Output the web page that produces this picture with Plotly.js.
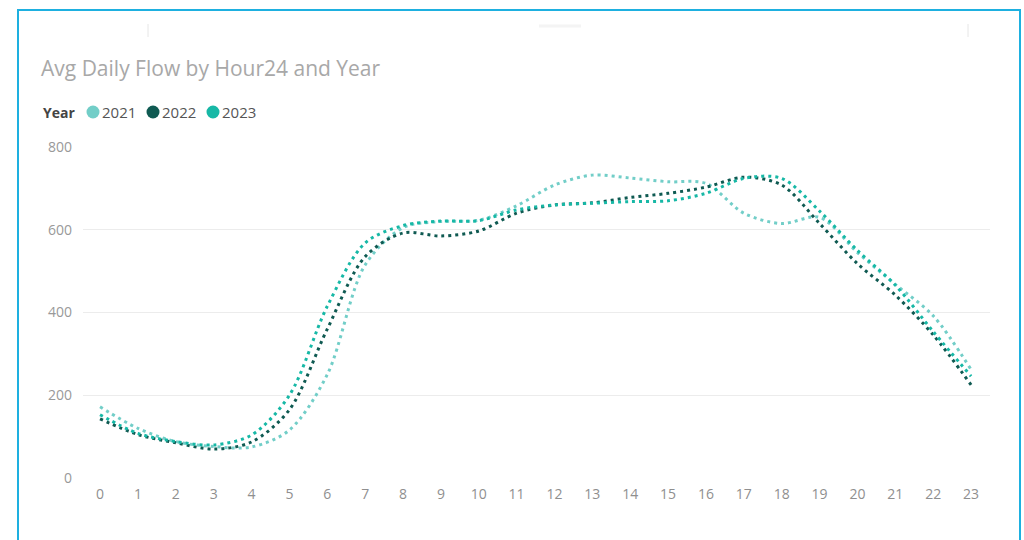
<!DOCTYPE html>
<html>
<head>
<meta charset="utf-8">
<script src="https://cdn.plot.ly/plotly-3.0.1.min.js"></script>
<style>
  html, body { margin: 0; padding: 0; background: #ffffff; }
  #chart { width: 1024px; height: 540px; }
</style>
</head>
<body>
<div id="chart"></div>
<script>
// ---- Data ----
const hours = [0, 1, 2, 3, 4, 5, 6, 7, 8, 9, 10, 11, 12, 13, 14, 15, 16, 17, 18, 19, 20, 21, 22, 23];
const years = ["2021", "2022", "2023"];
const flow2021 = [172, 120, 88, 76, 75, 116, 250, 515, 605, 620, 623, 658, 708, 732, 725, 716, 712, 640, 615, 630, 545, 468, 392, 262];
const flow2022 = [143, 105, 85, 70, 87, 165, 360, 535, 592, 585, 597, 640, 660, 665, 678, 688, 703, 727, 708, 615, 518, 442, 346, 225];
const flow2023 = [153, 108, 88, 80, 104, 200, 415, 568, 610, 621, 622, 648, 660, 664, 668, 670, 688, 724, 724, 645, 550, 466, 354, 246];
const yTicks = [0, 200, 400, 600, 800];
const colors = ["#72cec8", "#0f5a52", "#17b8a6"];
const titleText = "Avg Daily Flow by Hour24 and Year";
const legendTitle = "Year";

const seriesValues = [flow2021, flow2022, flow2023];

// ---- Geometry helpers (pixel -> paper) ----
const L = 83, R = 990, T = 147, B = 478;
const W = R - L, H = B - T;
const px = p => (p - L) / W;
const py = p => (B - p) / H;

const traces = years.map((yr, i) => ({
  type: "scatter",
  mode: "lines",
  name: yr,
  x: hours,
  y: seriesValues[i],
  line: { color: colors[i], width: 3, dash: "3px,4px", shape: "spline", smoothing: 0.9 },
  showlegend: false,
  hoverinfo: "x+y+name"
}));

// manual legend like the original (circle markers)
const shapes = [];
const annotations = [];
annotations.push({
  xref: "paper", yref: "paper", x: px(41), y: py(112),
  xanchor: "left", yanchor: "middle", showarrow: false,
  text: "<b>" + legendTitle + "</b>",
  font: { family: "Open Sans, sans-serif", size: 14, color: "#444444" }
});
years.forEach((yr, i) => {
  const cx = 93 + i * 60;
  shapes.push({
    type: "circle", xref: "paper", yref: "paper",
    xsizemode: "pixel", ysizemode: "pixel",
    xanchor: px(cx), yanchor: py(112),
    x0: -6.5, x1: 6.5, y0: -6.5, y1: 6.5,
    fillcolor: colors[i], line: { width: 0 }
  });
  annotations.push({
    xref: "paper", yref: "paper", x: px(cx + 7), y: py(112),
    xanchor: "left", yanchor: "middle", showarrow: false,
    text: yr,
    font: { family: "Open Sans, sans-serif", size: 15, color: "#555555" }
  });
});

// visual frame and faint header marks
shapes.push({
  type: "rect", xref: "paper", yref: "paper",
  x0: px(18), x1: px(1020), y0: py(600), y1: py(10),
  line: { color: "#1eb0e0", width: 2 }, fillcolor: "rgba(0,0,0,0)", layer: "above"
});
shapes.push({ type: "line", xref: "paper", yref: "paper", x0: px(148), x1: px(148), y0: py(24), y1: py(37), line: { color: "#e6e6e6", width: 1 } });
shapes.push({ type: "line", xref: "paper", yref: "paper", x0: px(968), x1: px(968), y0: py(24), y1: py(37), line: { color: "#e6e6e6", width: 1 } });
shapes.push({ type: "line", xref: "paper", yref: "paper", x0: px(539), x1: px(581), y0: py(26), y1: py(26), line: { color: "#f4f4f4", width: 3 } });

const layout = {
  width: 1024, height: 540,
  paper_bgcolor: "#ffffff", plot_bgcolor: "#ffffff",
  margin: { l: L, r: 1024 - R, t: T, b: 540 - B, pad: 0 },
  font: { family: "Open Sans, sans-serif", color: "#999999" },
  title: {
    text: titleText,
    xref: "container", yref: "container",
    x: 41 / 1024, xanchor: "left",
    y: 1 - 69 / 540, yanchor: "middle",
    font: { family: "Open Sans, sans-serif", size: 21, color: "#a8a8a8" }
  },
  xaxis: {
    type: "linear",
    range: [-0.45, 23.5],
    tickmode: "array",
    tickvals: hours,
    ticktext: hours.map(String),
    showgrid: false, zeroline: false, showline: false,
    ticks: "",
    ticklabelstandoff: 6,
    tickfont: { family: "Open Sans, sans-serif", size: 14, color: "#8f8f8f" },
    fixedrange: true
  },
  yaxis: {
    range: [0, 800],
    tickmode: "array",
    tickvals: yTicks,
    ticktext: yTicks.map(String),
    showgrid: true, gridcolor: "#ececec", gridwidth: 1,
    zeroline: false, showline: false,
    ticks: "",
    ticklabelstandoff: 10,
    tickfont: { family: "Open Sans, sans-serif", size: 14, color: "#999999" },
    fixedrange: true
  },
  shapes: shapes,
  annotations: annotations,
  showlegend: false
};

Plotly.newPlot("chart", traces, layout, { displayModeBar: false, staticPlot: true });
</script>
</body>
</html>
